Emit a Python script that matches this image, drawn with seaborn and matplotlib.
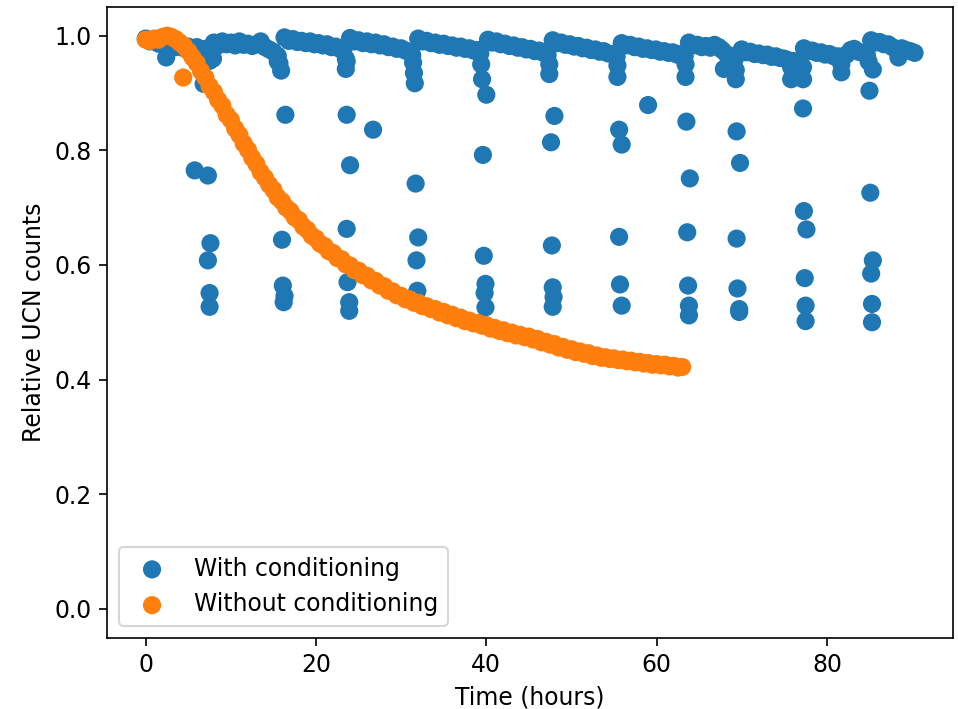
import numpy as np
import pandas as pd
import matplotlib
matplotlib.use("Agg")
import matplotlib.pyplot as plt
import seaborn as sns

# ---- data: "With conditioning" (blue) main band ----
band_t = [0, 0.5, 1, 1.5, 2, 2.5, 3, 3.5, 4, 4.5, 5, 5.5, 6, 6.5, 7, 7.5,
          8, 8.5, 9, 9.5, 10, 10.5, 11, 11.5, 12, 12.5, 13, 13.5, 14, 14.5, 15, 15.5,
          16.3, 16.8, 17.3, 17.8, 18.3, 18.8, 19.3, 19.8, 20.3, 20.8, 21.3, 21.8, 22.3, 22.8, 23.2,
          24, 24.5, 25, 25.5, 26, 26.5, 27, 27.5, 28, 28.5, 29, 29.5, 30, 30.5, 31, 31.3,
          32, 32.5, 33, 33.5, 34, 34.5, 35, 35.5, 36, 36.5, 37, 37.5, 38, 38.5, 39, 39.3,
          40.2, 40.7, 41.2, 41.7, 42.2, 42.7, 43.2, 43.7, 44.2, 44.7, 45.2, 45.7, 46.2, 46.7, 47.2,
          47.8, 48.3, 48.8, 49.3, 49.8, 50.3, 50.8, 51.3, 51.8, 52.3, 52.8, 53.3, 53.8, 54.3, 54.8, 55.3,
          55.9, 56.4, 56.9, 57.4, 57.9, 58.4, 58.9, 59.4, 59.9, 60.4, 60.9, 61.4, 61.9, 62.4, 62.9, 63.3,
          63.8, 64.3, 64.8, 65.3, 65.8, 66.3, 66.8, 67.3, 67.7, 68.2, 68.7, 69.2,
          70, 70.5, 71, 71.5, 72, 72.5, 73, 73.5, 74, 74.5, 75, 75.5, 76, 76.5,
          77.3, 77.8, 78.3, 78.8, 79.3, 79.8, 80.3, 80.8, 81.3, 81.8, 82.3, 82.8, 83.2, 83.7, 84.2, 84.7,
          85.2, 85.7, 86.2, 86.7, 87.2, 87.7, 88.2, 88.4, 88.8, 89.3, 89.8, 90.3]
band_v = [0.995, 0.990, 0.992, 0.986, 0.988, 0.982, 0.984, 0.980, 0.983, 0.978, 0.981, 0.977, 0.980, 0.975, 0.977, 0.970,
          0.988, 0.983, 0.990, 0.985, 0.988, 0.983, 0.990, 0.984, 0.986, 0.982, 0.985, 0.990, 0.980, 0.976, 0.972, 0.965,
          0.997, 0.991, 0.994, 0.989, 0.991, 0.987, 0.990, 0.985, 0.987, 0.983, 0.985, 0.980, 0.981, 0.977, 0.975,
          0.996, 0.990, 0.992, 0.987, 0.990, 0.985, 0.988, 0.983, 0.985, 0.980, 0.981, 0.977, 0.978, 0.974, 0.972, 0.966,
          0.995, 0.990, 0.991, 0.987, 0.988, 0.984, 0.986, 0.982, 0.983, 0.979, 0.981, 0.977, 0.978, 0.974, 0.975, 0.969,
          0.993, 0.988, 0.990, 0.985, 0.986, 0.982, 0.983, 0.979, 0.980, 0.976, 0.977, 0.973, 0.974, 0.970, 0.966,
          0.992, 0.987, 0.988, 0.984, 0.985, 0.981, 0.982, 0.978, 0.979, 0.975, 0.976, 0.972, 0.973, 0.969, 0.968, 0.963,
          0.987, 0.983, 0.984, 0.980, 0.981, 0.977, 0.978, 0.975, 0.976, 0.972, 0.973, 0.970, 0.971, 0.967, 0.968, 0.964,
          0.988, 0.983, 0.984, 0.980, 0.982, 0.979, 0.984, 0.980, 0.975, 0.968, 0.964, 0.960,
          0.976, 0.971, 0.972, 0.968, 0.969, 0.966, 0.967, 0.963, 0.964, 0.961, 0.960, 0.957, 0.956, 0.953,
          0.978, 0.973, 0.974, 0.970, 0.971, 0.967, 0.968, 0.964, 0.964, 0.961, 0.967, 0.975, 0.977, 0.972, 0.970, 0.966,
          0.992, 0.988, 0.989, 0.985, 0.985, 0.980, 0.975, 0.962, 0.978, 0.975, 0.973, 0.970]

# ---- "With conditioning" drops after each reconditioning ----
drop_t = [2.4, 6.8, 7.5, 7.9, 5.75, 7.3, 7.6, 7.3, 7.5, 7.5,
          15.7, 15.9, 15.5, 16.4, 16.0, 16.1, 16.3, 16.2,
          23.5, 23.5, 23.6, 23.6, 26.7, 24.0, 23.6, 23.7, 23.9, 23.9,
          31.4, 31.5, 31.6, 31.7, 32.0, 31.8, 31.9,
          39.4, 39.5, 40.0, 39.6, 39.7, 39.9, 39.8, 39.9,
          47.4, 47.4, 48.0, 47.6, 47.7, 47.8, 47.9, 47.8,
          55.4, 55.4, 55.6, 55.9, 55.6, 55.7, 55.9, 59.0,
          63.4, 63.4, 63.5, 63.9, 63.6, 63.7, 63.8, 63.8,
          67.9, 69.3, 69.3, 69.4, 69.8, 69.4, 69.5, 69.7, 69.7,
          75.8, 75.8, 77.2, 77.2, 77.2, 77.3, 77.6, 77.4, 77.5, 77.5,
          81.7, 81.7, 84.9, 85.0, 85.4, 85.1, 85.4, 85.2, 85.3, 85.3]
drop_v = [0.962, 0.916, 0.956, 0.960, 0.765, 0.756, 0.638, 0.608, 0.551, 0.527,
          0.952, 0.939, 0.955, 0.862, 0.644, 0.564, 0.546, 0.535,
          0.960, 0.942, 0.955, 0.862, 0.836, 0.774, 0.663, 0.570, 0.535, 0.520,
          0.953, 0.935, 0.917, 0.742, 0.648, 0.608, 0.555,
          0.950, 0.924, 0.897, 0.792, 0.616, 0.567, 0.551, 0.526,
          0.950, 0.933, 0.860, 0.814, 0.634, 0.561, 0.544, 0.527,
          0.948, 0.928, 0.836, 0.810, 0.649, 0.566, 0.529, 0.879,
          0.950, 0.928, 0.850, 0.751, 0.657, 0.564, 0.529, 0.512,
          0.942, 0.940, 0.924, 0.833, 0.778, 0.646, 0.559, 0.523, 0.518,
          0.945, 0.924, 0.945, 0.924, 0.873, 0.694, 0.662, 0.577, 0.529, 0.502,
          0.950, 0.936, 0.955, 0.904, 0.941, 0.726, 0.608, 0.585, 0.532, 0.500]

# ---- "Without conditioning" (orange) ----
nocond_t = [0, 0.5, 1, 1.5, 2, 2.5, 3, 3.5, 4, 4.4, 4.5, 5, 5.5, 6, 6.5, 7, 7.5, 8, 8.5, 9,
            9.5, 10, 10.5, 11, 11.5, 12, 12.5, 13, 13.5, 14, 14.5, 15, 15.5, 16, 16.5,
            17, 17.5, 18, 18.5, 19, 19.5, 20, 20.5, 21, 21.5, 22, 22.5, 23, 23.5, 24,
            24.5, 25, 25.5, 26, 26.5, 27, 27.5, 28, 28.5, 29, 29.5, 30, 30.5, 31, 31.5,
            32, 32.5, 33, 33.5, 34, 34.5, 35, 35.5, 36, 36.5, 37, 37.5, 38, 38.5, 39,
            39.5, 40, 40.5, 41, 41.5, 42, 42.5, 43, 43.5, 44, 44.5, 45, 45.5, 46, 46.5,
            47, 47.5, 48, 48.5, 49, 49.5, 50, 50.5, 51, 51.5, 52, 52.5, 53, 53.5, 54,
            54.5, 55, 55.5, 56, 56.5, 57, 57.5, 58, 58.5, 59, 59.5, 60, 60.5, 61, 61.5,
            62, 62.5, 63]
nocond_v = [0.993, 0.991, 0.995, 0.993, 0.998, 1.000, 0.998, 0.994, 0.988, 0.927,
            0.982, 0.973, 0.962, 0.952, 0.938, 0.927, 0.912, 0.902, 0.888, 0.878,
            0.862, 0.853, 0.838, 0.827, 0.812, 0.801, 0.787, 0.776, 0.762, 0.752,
            0.740, 0.731, 0.718, 0.711, 0.700, 0.694, 0.683, 0.678, 0.667, 0.661,
            0.651, 0.646, 0.637, 0.633, 0.624, 0.621, 0.612, 0.610, 0.601, 0.599,
            0.591, 0.590, 0.582, 0.581, 0.573, 0.572, 0.564, 0.563, 0.555, 0.554,
            0.547, 0.546, 0.540, 0.540, 0.534, 0.534, 0.528, 0.528, 0.523, 0.523,
            0.517, 0.518, 0.512, 0.513, 0.507, 0.508, 0.502, 0.503, 0.498, 0.499,
            0.494, 0.495, 0.489, 0.490, 0.485, 0.486, 0.481, 0.482, 0.477, 0.478,
            0.474, 0.475, 0.470, 0.471, 0.465, 0.466, 0.461, 0.462, 0.456, 0.457,
            0.452, 0.453, 0.448, 0.449, 0.445, 0.446, 0.441, 0.442, 0.438, 0.439,
            0.436, 0.437, 0.434, 0.435, 0.432, 0.433, 0.430, 0.431, 0.428, 0.429,
            0.426, 0.427, 0.425, 0.426, 0.423, 0.424, 0.421, 0.422]

labels = ["With conditioning", "Without conditioning"]
colors = ["#1f77b4", "#ff7f0e"]

df_with = pd.DataFrame({"t": band_t + drop_t, "v": band_v + drop_v})
df_without = pd.DataFrame({"t": nocond_t, "v": nocond_v})

plt.rcParams["font.size"] = 11.3
plt.rcParams["xtick.major.size"] = 4
plt.rcParams["ytick.major.size"] = 4

DPI = 150
fig = plt.figure(figsize=(958 / DPI, 709 / DPI), dpi=DPI)
ax = fig.add_axes([0.112, 0.1008, 0.8828, 0.8893])

for df, lab, col in zip([df_with, df_without], labels, colors):
    sns.scatterplot(data=df, x="t", y="v", color=col, edgecolor="none",
                    linewidth=0, s=76, label=lab, ax=ax, legend=False)

ax.set_ylim(-0.05, 1.05)
ax.set_yticks([0.0, 0.2, 0.4, 0.6, 0.8, 1.0])
ax.set_xticks([0, 20, 40, 60, 80])
ax.set_xlabel("Time (hours)")
ax.set_ylabel("Relative UCN counts")
ax.legend(loc="lower left")

fig.savefig("out.png", dpi=DPI)
